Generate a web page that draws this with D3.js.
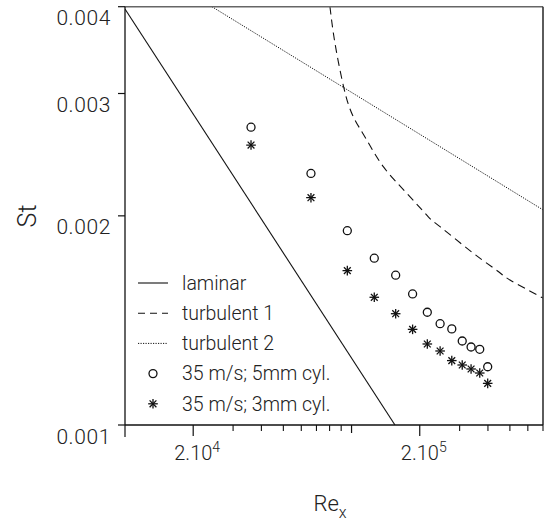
<!DOCTYPE html>
<html>
<head>
<meta charset="utf-8">
<script src="https://cdn.jsdelivr.net/npm/d3@7"></script>
<style>
  html, body { margin: 0; padding: 0; background: #fff; }
  svg { display: block; }
  text { font-family: Roboto, "Liberation Sans", sans-serif; font-weight: 300; fill: #222; }
</style>
</head>
<body>
<svg id="chart" width="546" height="523"></svg>
<script>
// Reynolds numbers of the measurement stations
const reX = [36000, 66200, 95800, 126000, 156600, 186000, 216000, 246000, 277000, 308000, 337000, 368000, 399000];
// Stanton numbers, 35 m/s with a 5 mm cylinder upstream
const st5mm = [0.002683, 0.002302, 0.001904, 0.001738, 0.001643, 0.001544, 0.001453, 0.001399, 0.001375, 0.001321, 0.001295, 0.001285, 0.001213];
// Stanton numbers, 35 m/s with a 3 mm cylinder upstream
const st3mm = [0.002529, 0.002124, 0.001668, 0.001527, 0.001446, 0.001373, 0.001308, 0.001278, 0.001238, 0.001220, 0.001204, 0.001188, 0.001148];

// Reference correlations
const laminarRe = [10000, 155500];
const laminarSt = [0.00397, 0.001];
const turb1Re = [80300, 84500, 92600, 101800, 116700, 138100, 175200, 218200, 245700, 344600, 444400, 500500, 700000];
const turb1St = [0.004, 0.003543, 0.003052, 0.002778, 0.002572, 0.002354, 0.002156, 0.001994, 0.001930, 0.001767, 0.001663, 0.001617, 0.001523];
const turb2Re = [24200, 700000];
const turb2St = [0.004, 0.00204];

// Axis ticks
const yTicks = [0.001, 0.002, 0.003, 0.004];
const xMinorTicks = [30000, 40000, 50000, 60000, 70000, 80000, 90000, 300000, 400000, 500000, 600000, 700000];
const xMajorTicks = [10000, 20000, 100000, 200000];
const xTickLabels = [{v: 20000, base: "2.10", exp: "4"}, {v: 200000, base: "2.10", exp: "5"}];

const legendItems = [
  {label: "laminar", type: "line", dash: null},
  {label: "turbulent 1", type: "line", dash: "7,5"},
  {label: "turbulent 2", type: "line", dash: "1.2,1.3"},
  {label: "35 m/s; 5mm cyl.", type: "circle"},
  {label: "35 m/s; 3mm cyl.", type: "star"}
];

const L = 125, R = 543, T = 6.7, B = 425;
const x = d3.scaleLog().domain([10000, 700000]).range([L, R]);
const y = d3.scaleLog().domain([0.001, 0.004]).range([B, T]);

const svg = d3.select("#chart");

svg.append("defs").append("clipPath").attr("id", "plot")
  .append("rect").attr("x", L).attr("y", T).attr("width", R - L).attr("height", B - T);

const plot = svg.append("g").attr("clip-path", "url(#plot)");

function zipPts(res, sts) { return res.map((r, i) => [r, sts[i]]); }

const line = d3.line().x(d => x(d[0])).y(d => y(d[1]));
const curve = d3.line().x(d => x(d[0])).y(d => y(d[1])).curve(d3.curveNatural);

plot.append("path").attr("d", line(zipPts(laminarRe, laminarSt)))
  .attr("fill", "none").attr("stroke", "#111").attr("stroke-width", 1.1);
plot.append("path").attr("d", curve(zipPts(turb1Re, turb1St)))
  .attr("fill", "none").attr("stroke", "#111").attr("stroke-width", 1.1).attr("stroke-dasharray", "8,5");
plot.append("path").attr("d", line(zipPts(turb2Re, turb2St)))
  .attr("fill", "none").attr("stroke", "#111").attr("stroke-width", 1).attr("stroke-dasharray", "1.2,1.3");

function drawStar(g, cx, cy, r) {
  const s = g.append("g").attr("transform", `translate(${cx},${cy})`);
  [0, 45, 90, 135].forEach(a => {
    const rad = a * Math.PI / 180;
    s.append("line")
      .attr("x1", -r * Math.cos(rad)).attr("y1", -r * Math.sin(rad))
      .attr("x2", r * Math.cos(rad)).attr("y2", r * Math.sin(rad))
      .attr("stroke", "#111").attr("stroke-width", 1.3);
  });
}

plot.selectAll("circle.c5").data(zipPts(reX, st5mm)).enter().append("circle")
  .attr("class", "c5").attr("cx", d => x(d[0])).attr("cy", d => y(d[1])).attr("r", 4)
  .attr("fill", "none").attr("stroke", "#111").attr("stroke-width", 1.3);

zipPts(reX, st3mm).forEach(d => drawStar(plot, x(d[0]), y(d[1]), 4.8));

// Frame
svg.append("line").attr("x1", L).attr("x2", R).attr("y1", T).attr("y2", T)
  .attr("stroke", "#666").attr("stroke-width", 1.6);
svg.append("line").attr("x1", R).attr("x2", R).attr("y1", T).attr("y2", B)
  .attr("stroke", "#333").attr("stroke-width", 1.6);
svg.append("line").attr("x1", L).attr("x2", L).attr("y1", T).attr("y2", B)
  .attr("stroke", "#111").attr("stroke-width", 1.3);
svg.append("line").attr("x1", L).attr("x2", R).attr("y1", B).attr("y2", B)
  .attr("stroke", "#111").attr("stroke-width", 1.3);

// Y ticks and labels
yTicks.forEach(v => {
  svg.append("line").attr("x1", L - 7).attr("x2", L).attr("y1", y(v)).attr("y2", y(v))
    .attr("stroke", "#111").attr("stroke-width", 1.2);
  svg.append("text").attr("x", 111).attr("y", y(v) + 18.5)
    .attr("text-anchor", "end").attr("font-size", 21).attr("letter-spacing", 0.6)
    .text(d3.format(".3f")(v));
});

// X ticks
xMinorTicks.forEach(v => {
  svg.append("line").attr("x1", x(v)).attr("x2", x(v)).attr("y1", B).attr("y2", B + 6)
    .attr("stroke", "#111").attr("stroke-width", 1.1);
});
xMajorTicks.forEach(v => {
  const len = v === 10000 ? 12 : (v === 100000 ? 8 : 11);
  svg.append("line").attr("x1", x(v)).attr("x2", x(v)).attr("y1", B).attr("y2", B + len)
    .attr("stroke", "#111").attr("stroke-width", 1.2);
});
xTickLabels.forEach(t => {
  const tx = svg.append("text").attr("x", x(t.v) + 4).attr("y", 460)
    .attr("text-anchor", "middle").attr("font-size", 20);
  tx.append("tspan").text(t.base);
  tx.append("tspan").attr("dy", -8).attr("font-size", 14).text(t.exp);
});

// Axis titles
const xt = svg.append("text").attr("x", 330).attr("y", 511).attr("text-anchor", "middle").attr("font-size", 22);
xt.append("tspan").text("Re");
xt.append("tspan").attr("dy", 7).attr("font-size", 16).text("x");

svg.append("text").attr("transform", "translate(36,216) rotate(-90)")
  .attr("text-anchor", "middle").attr("font-size", 25).text("St");

// Legend
const legTop = 283, legStep = 30.2;
legendItems.forEach((item, i) => {
  const ly = legTop + i * legStep;
  if (item.type === "line") {
    const ln = svg.append("line").attr("x1", 138).attr("x2", 168).attr("y1", ly).attr("y2", ly)
      .attr("stroke", "#111").attr("stroke-width", item.dash === "1.2,1.3" ? 1 : 1.1);
    if (item.dash) ln.attr("stroke-dasharray", item.dash);
  } else if (item.type === "circle") {
    svg.append("circle").attr("cx", 153).attr("cy", ly).attr("r", 4)
      .attr("fill", "none").attr("stroke", "#111").attr("stroke-width", 1.3);
  } else {
    drawStar(svg, 153, ly, 4.8);
  }
  svg.append("text").attr("x", 182).attr("y", ly).attr("dy", "0.35em")
    .attr("font-size", 19.5).text(item.label);
});
</script>
</body>
</html>
